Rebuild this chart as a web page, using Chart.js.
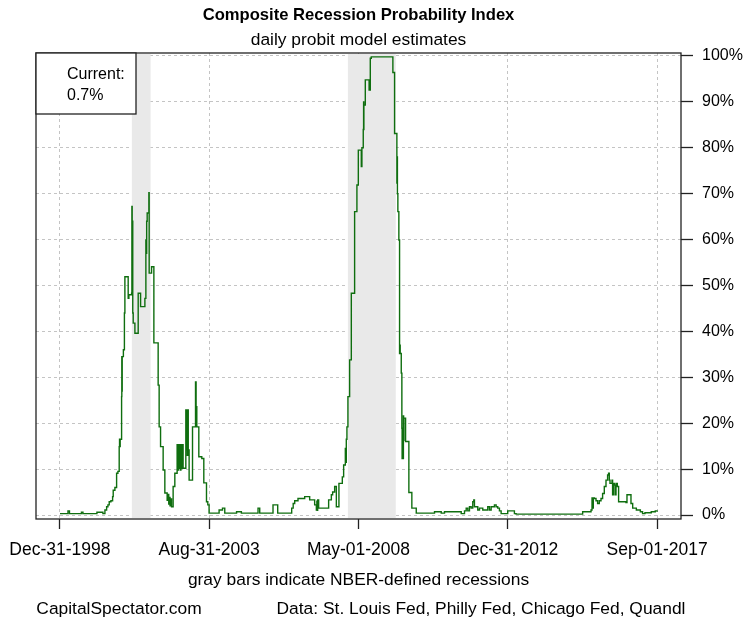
<!DOCTYPE html>
<html><head><meta charset="utf-8">
<script src="https://cdn.jsdelivr.net/npm/chart.js@4.4.1/dist/chart.umd.min.js"></script>
<style>html,body{margin:0;padding:0;background:#fff}#wrap{width:745px;height:625px;position:relative}</style>
</head><body><div id="wrap"><canvas id="c" width="745" height="625"></canvas></div>
<script>
// ---- data (x in decimal years, y in percent) ----
const obsYears = [
1999.000,1999.250,1999.297,1999.624,1999.671,1999.718,2000.124,2000.155,2000.342,2000.405,
2000.458,2000.499,2000.539,2000.592,2000.645,2000.664,2000.717,2000.770,2000.811,2000.851,
2000.862,2000.872,2000.882,2000.926,2000.933,2000.938,2000.945,2000.982,2001.014,2001.029,
2001.132,2001.154,2001.239,2001.248,2001.257,2001.266,2001.275,2001.289,2001.342,2001.445,
2001.520,2001.654,2001.685,2001.700,2001.710,2001.726,2001.779,2001.788,2001.863,2001.935,
2002.069,2002.100,2002.144,2002.225,2002.278,2002.350,2002.380,2002.400,2002.420,2002.440,
2002.460,2002.487,2002.537,2002.590,2002.662,2002.680,2002.700,2002.720,2002.740,2002.760,
2002.780,2002.800,2002.820,2002.849,2002.934,2002.950,2002.965,2002.980,2002.995,2003.010,
2003.037,2003.143,2003.237,2003.255,2003.277,2003.340,2003.433,2003.496,2003.580,2003.621,
2003.661,2003.974,2004.080,2004.151,2004.520,2004.670,2005.191,2005.244,2005.659,2005.806,
2006.181,2006.243,2006.290,2006.337,2006.440,2006.649,2006.805,2006.961,2007.014,2007.030,
2007.045,2007.055,2007.086,2007.305,2007.398,2007.483,2007.523,2007.586,2007.639,2007.720,
2007.826,2007.867,2007.920,2007.935,2007.950,2007.970,2008.001,2008.054,2008.107,2008.210,
2008.282,2008.326,2008.419,2008.438,2008.480,2008.491,2008.497,2008.500,2008.544,2008.663,
2008.700,2008.731,2009.356,2009.406,2009.459,2009.531,2009.540,2009.548,2009.562,2009.593,
2009.615,2009.625,2009.635,2009.668,2009.687,2009.695,2009.705,2009.718,2009.735,2009.742,
2009.750,2009.803,2009.906,2009.999,2010.137,2010.708,2010.917,2011.020,2011.489,2011.542,
2011.645,2011.698,2011.748,2011.800,2011.853,2011.903,2011.935,2011.956,2012.050,2012.059,
2012.113,2012.216,2012.322,2012.372,2012.425,2012.478,2012.581,2012.634,2012.684,2012.737,
2012.790,2012.893,2012.996,2013.102,2013.205,2013.258,2015.288,2015.338,2015.547,2015.600,
2015.631,2015.643,2015.656,2015.665,2015.672,2015.703,2015.756,2015.806,2015.859,2015.912,
2015.962,2016.015,2016.068,2016.118,2016.149,2016.171,2016.193,2016.256,2016.274,2016.296,
2016.328,2016.349,2016.381,2016.421,2016.462,2016.693,2016.724,2016.796,2016.849,2016.902,
2016.986,2017.017,2017.110,2017.142,2017.211,2017.286,2017.390,2017.483,2017.608,2017.666
];
const probability = [
0.3,0.9,0.3,0.3,0.6,0.3,0.3,0.6,0.3,1.1,
1.8,2.2,2.9,3.1,4.0,5.4,6.0,9.1,9.5,14.9,
16.5,14.9,16.5,25.8,34.5,27.0,34.5,36.0,44.0,51.9,
47.2,48.0,48.3,67.2,55.0,64.0,44.0,41.8,39.6,48.3,
45.4,47.2,59.9,57.0,64.0,65.8,70.2,52.7,54.1,37.5,
28.3,19.2,14.9,9.8,4.8,3.2,4.5,2.4,3.8,2.0,
3.5,1.8,6.2,9.1,15.3,9.8,15.3,10.2,15.3,9.8,
15.3,10.2,15.3,10.2,22.9,14.2,22.9,13.0,22.9,14.2,
7.6,19.2,29.0,23.6,19.2,12.7,12.3,7.0,2.9,2.2,
0.4,1.1,1.5,0.4,0.7,0.4,1.5,0.4,2.2,0.4,
0.4,1.5,2.5,3.1,3.6,4.0,3.3,2.2,1.1,3.0,
1.0,3.3,1.5,1.5,3.3,4.4,5.0,6.2,1.8,6.9,
8.3,10.9,14.5,11.5,16.5,19.2,25.8,33.8,48.3,66.1,
71.9,79.5,75.9,80.0,84.0,90.0,84.0,89.3,94.8,92.6,
99.5,99.8,99.8,96.4,83.1,72.3,78.0,70.0,66.1,59.9,
35.2,37.0,35.2,30.9,18.9,12.3,18.5,12.3,21.6,16.3,
21.1,16.0,4.9,1.5,0.4,0.7,0.4,0.7,0.7,0.3,
0.9,1.5,0.9,1.8,1.5,2.9,3.3,1.8,1.8,1.1,
1.5,1.1,1.1,1.8,1.1,1.8,2.2,1.8,1.5,0.9,
0.3,0.3,0.9,0.9,0.3,0.2,0.2,0.7,0.7,1.1,
3.7,1.5,3.7,1.5,3.7,3.6,3.1,2.5,3.1,3.6,
4.7,6.2,7.6,8.7,9.1,7.6,6.9,7.6,4.4,6.9,
6.5,4.4,6.9,6.2,2.9,2.7,4.4,4.4,2.5,1.5,
1.5,1.1,1.1,0.7,0.3,0.5,0.5,0.7,0.9,0.7
];
const currentValue = 0.7;
const xTickDates = ['1998-12-31','2003-08-31','2008-05-01','2012-12-31','2017-09-01'];
const xTickLabels = ['Dec-31-1998','Aug-31-2003','May-01-2008','Dec-31-2012','Sep-01-2017'];
const yTickValues = [0,10,20,30,40,50,60,70,80,90,100];
const recessionStarts = ['2001-04-01','2008-01-01'];
const recessionEnds = ['2001-11-01','2009-07-01'];
const titleText = 'Composite Recession Probability Index';
const subtitleText = 'daily probit model estimates';
const noteText = 'gray bars indicate NBER-defined recessions';
const leftFooter = 'CapitalSpectator.com';
const rightFooter = 'Data: St. Louis Fed, Philly Fed, Chicago Fed, Quandl';

// ---- helpers ----
function toYear(s){
  const d = new Date(s + 'T00:00:00Z');
  const y = d.getUTCFullYear();
  const a = Date.UTC(y,0,1), b = Date.UTC(y+1,0,1);
  return y + (d.getTime()-a)/(b-a);
}
const x0 = toYear(xTickDates[0]), x1 = toYear(xTickDates[xTickDates.length-1]);
const pad = 0.04*(x1-x0);
const FONT = '"Liberation Sans", Arial, sans-serif';
const points = obsYears.map((t,i)=>({x:t, y:probability[i]}));

function noPad(s){ s.paddingLeft = 0; s.paddingRight = 0; s.paddingTop = 0; s.paddingBottom = 0; }

const decor = {
  id:'decor',
  beforeDraw(chart){
    const c = chart.ctx; c.save(); c.fillStyle='#fff'; c.fillRect(0,0,chart.width,chart.height); c.restore();
  },
  beforeDatasetsDraw(chart){
    const c = chart.ctx, a = chart.chartArea, xs = chart.scales.x;
    c.save();
    c.beginPath(); c.rect(a.left,a.top,a.right-a.left,a.bottom-a.top); c.clip();
    c.fillStyle = '#e9e9e9';
    for(let i=0;i<recessionStarts.length;i++){
      const l = xs.getPixelForValue(toYear(recessionStarts[i]));
      const r = xs.getPixelForValue(toYear(recessionEnds[i]));
      c.fillRect(l, a.top+1, r-l, a.bottom-a.top-2);
    }
    c.restore();
  },
  afterDraw(chart){
    const c = chart.ctx, a = chart.chartArea;
    c.save();
    c.strokeStyle = '#222'; c.lineWidth = 1.3;
    c.strokeRect(a.left, a.top, a.right-a.left, a.bottom-a.top);
    // current box
    c.fillStyle = '#fff';
    c.fillRect(a.left, a.top, 100, 61);
    c.strokeRect(a.left, a.top, 100, 61);
    c.fillStyle = '#000';
    c.font = '16px ' + FONT; c.textAlign='left'; c.textBaseline='middle';
    c.fillText('Current:', a.left+31, a.top+22);
    c.fillText(currentValue.toFixed(1)+'%', a.left+31, a.top+43);
    // titles
    const cx = (a.left+a.right)/2;
    c.textAlign='center';
    c.font = 'bold 16.6px ' + FONT;
    c.fillText(titleText, cx, 15);
    c.font = '17.4px ' + FONT;
    c.fillText(subtitleText, cx, 40);
    c.fillText(noteText, cx, 580);
    c.fillText(leftFooter, 119, 609);
    c.fillText(rightFooter, 481, 609);
    c.restore();
  }
};

const gridCommon = {
  color:'#c4c4c4', lineWidth:1, borderDash:[3,3], drawTicks:true,
  tickColor:'#222', tickWidth:1.3, tickBorderDash:[100,0]
};

new Chart(document.getElementById('c'), {
  type:'line',
  data:{ datasets:[{
    data: points, stepped:'before', borderColor:'#0f6e0f', borderWidth:1.4,
    pointRadius:0, fill:false, tension:0
  }]},
  options:{
    responsive:false, animation:false, devicePixelRatio:1,
    layout:{ padding:{ left:36, top:53, right:0, bottom:0 } },
    plugins:{ legend:{display:false}, title:{display:false}, tooltip:{enabled:false} },
    scales:{
      x:{
        type:'linear', position:'bottom', min:x0-pad, max:x1+pad,
        afterBuildTicks: s => { s.ticks = xTickDates.map(d => ({value: toYear(d)})); },
        afterFit: s => { s.height = 106; noPad(s); },
        grid: Object.assign({}, gridCommon, {tickLength:10}),
        border:{ display:false, dash:[3,3] },
        ticks:{ callback:(v,i)=>xTickLabels[i], color:'#000', font:{family:FONT, size:17.5},
                padding:11, maxRotation:0, minRotation:0, autoSkip:false }
      },
      y:{
        type:'linear', position:'right', min:-0.87, max:100.65,
        afterBuildTicks: s => { s.ticks = yTickValues.map(v => ({value:v})); },
        afterFit: s => { s.width = 64; noPad(s); },
        grid: Object.assign({}, gridCommon, {tickLength:12}),
        border:{ display:false, dash:[3,3] },
        ticks:{ callback: v => v + '%', color:'#000', font:{family:FONT, size:16}, padding:9 }
      }
    }
  },
  plugins:[decor]
});
</script></body></html>
